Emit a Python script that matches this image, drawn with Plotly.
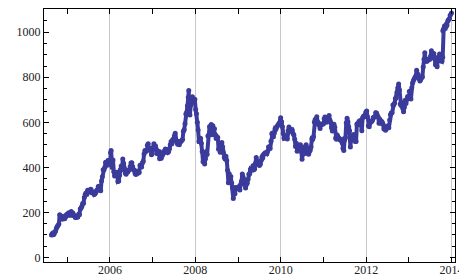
import plotly.graph_objects as go

# Weekly-ish closing values
dates = [
    "2004-08-19","2004-08-26","2004-09-02","2004-09-09","2004-09-16","2004-09-23","2004-09-30","2004-10-07","2004-10-14","2004-10-21",
    "2004-10-28","2004-11-04","2004-11-11","2004-11-18","2004-11-26","2004-12-03","2004-12-10","2004-12-17","2004-12-27",
    "2005-01-06","2005-01-14","2005-01-21","2005-01-28","2005-02-04","2005-02-11","2005-02-18","2005-02-25","2005-03-04","2005-03-11",
    "2005-03-18","2005-03-25","2005-04-01","2005-04-08","2005-04-15","2005-04-22","2005-04-29","2005-05-06","2005-05-13","2005-05-20",
    "2005-05-27","2005-06-03","2005-06-10","2005-06-17","2005-06-24","2005-07-01","2005-07-08","2005-07-15","2005-07-22","2005-07-29",
    "2005-08-05","2005-08-12","2005-08-19","2005-08-26","2005-09-02","2005-09-09","2005-09-16","2005-09-23","2005-09-30","2005-10-07",
    "2005-10-14","2005-10-21","2005-10-28","2005-11-04","2005-11-11","2005-11-18","2005-11-25","2005-12-02","2005-12-09","2005-12-16",
    "2005-12-23","2005-12-30",
    "2006-01-06","2006-01-11","2006-01-20","2006-01-27","2006-02-03","2006-02-10","2006-02-17","2006-02-24","2006-03-03","2006-03-10",
    "2006-03-17","2006-03-24","2006-03-31","2006-04-07","2006-04-14","2006-04-21","2006-04-28","2006-05-05","2006-05-12","2006-05-19",
    "2006-05-26","2006-06-02","2006-06-09","2006-06-16","2006-06-23","2006-06-30","2006-07-07","2006-07-14","2006-07-21","2006-07-28",
    "2006-08-04","2006-08-11","2006-08-18","2006-08-25","2006-09-01","2006-09-08","2006-09-15","2006-09-22","2006-09-29","2006-10-06",
    "2006-10-13","2006-10-20","2006-10-27","2006-11-03","2006-11-10","2006-11-17","2006-11-24","2006-12-01","2006-12-08","2006-12-15",
    "2006-12-22","2006-12-29",
    "2007-01-05","2007-01-12","2007-01-19","2007-01-26","2007-02-02","2007-02-09","2007-02-16","2007-02-23","2007-03-02","2007-03-09",
    "2007-03-16","2007-03-23","2007-03-30","2007-04-05","2007-04-13","2007-04-20","2007-04-27","2007-05-04","2007-05-11","2007-05-18",
    "2007-05-25","2007-06-01","2007-06-08","2007-06-15","2007-06-22","2007-06-29","2007-07-06","2007-07-13","2007-07-20","2007-07-27",
    "2007-08-03","2007-08-10","2007-08-17","2007-08-24","2007-08-31","2007-09-07","2007-09-14","2007-09-21","2007-09-28","2007-10-05",
    "2007-10-12","2007-10-19","2007-10-26","2007-11-02","2007-11-06","2007-11-09","2007-11-16","2007-11-23","2007-11-30","2007-12-07",
    "2007-12-14","2007-12-21","2007-12-28",
    "2008-01-04","2008-01-11","2008-01-18","2008-01-25","2008-02-01","2008-02-08","2008-02-15","2008-02-22","2008-02-29","2008-03-07",
    "2008-03-14","2008-03-21","2008-03-28","2008-04-04","2008-04-11","2008-04-18","2008-04-25","2008-05-02","2008-05-09","2008-05-16",
    "2008-05-23","2008-05-30","2008-06-06","2008-06-13","2008-06-20","2008-06-27","2008-07-03","2008-07-11","2008-07-18","2008-07-25",
    "2008-08-01","2008-08-08","2008-08-15","2008-08-22","2008-08-29","2008-09-05","2008-09-12","2008-09-19","2008-09-26","2008-10-03",
    "2008-10-10","2008-10-17","2008-10-24","2008-10-31","2008-11-07","2008-11-14","2008-11-21","2008-11-28","2008-12-05","2008-12-12",
    "2008-12-19","2008-12-31",
    "2009-01-09","2009-01-16","2009-01-23","2009-01-30","2009-02-06","2009-02-13","2009-02-20","2009-02-27","2009-03-06","2009-03-13",
    "2009-03-20","2009-03-27","2009-04-03","2009-04-10","2009-04-17","2009-04-24","2009-05-01","2009-05-08","2009-05-15","2009-05-22",
    "2009-05-29","2009-06-05","2009-06-12","2009-06-19","2009-06-26","2009-07-02","2009-07-10","2009-07-17","2009-07-24","2009-07-31",
    "2009-08-07","2009-08-14","2009-08-21","2009-08-28","2009-09-04","2009-09-11","2009-09-18","2009-09-25","2009-10-02","2009-10-09",
    "2009-10-16","2009-10-23","2009-10-30","2009-11-06","2009-11-13","2009-11-20","2009-11-27","2009-12-04","2009-12-11","2009-12-18",
    "2009-12-31",
    "2010-01-08","2010-01-15","2010-01-22","2010-01-29","2010-02-05","2010-02-12","2010-02-19","2010-02-26","2010-03-05","2010-03-12",
    "2010-03-19","2010-03-26","2010-04-02","2010-04-09","2010-04-16","2010-04-23","2010-04-30","2010-05-07","2010-05-14","2010-05-21",
    "2010-05-28","2010-06-04","2010-06-11","2010-06-18","2010-06-25","2010-07-02","2010-07-09","2010-07-16","2010-07-23","2010-07-30",
    "2010-08-06","2010-08-13","2010-08-20","2010-08-27","2010-09-03","2010-09-10","2010-09-17","2010-09-24","2010-10-01","2010-10-08",
    "2010-10-15","2010-10-22","2010-10-29","2010-11-05","2010-11-12","2010-11-19","2010-11-26","2010-12-03","2010-12-10","2010-12-17",
    "2010-12-31",
    "2011-01-07","2011-01-14","2011-01-21","2011-01-28","2011-02-04","2011-02-11","2011-02-18","2011-02-25","2011-03-04","2011-03-11",
    "2011-03-18","2011-03-25","2011-04-01","2011-04-08","2011-04-15","2011-04-22","2011-04-29","2011-05-06","2011-05-13","2011-05-20",
    "2011-05-27","2011-06-03","2011-06-10","2011-06-17","2011-06-24","2011-07-01","2011-07-08","2011-07-15","2011-07-22","2011-07-29",
    "2011-08-05","2011-08-12","2011-08-19","2011-08-26","2011-09-02","2011-09-09","2011-09-16","2011-09-23","2011-09-30","2011-10-07",
    "2011-10-14","2011-10-21","2011-10-28","2011-11-04","2011-11-11","2011-11-18","2011-11-25","2011-12-02","2011-12-09","2011-12-16",
    "2011-12-30",
    "2012-01-06","2012-01-13","2012-01-20","2012-01-27","2012-02-03","2012-02-10","2012-02-17","2012-02-24","2012-03-02","2012-03-09",
    "2012-03-16","2012-03-23","2012-03-30","2012-04-05","2012-04-13","2012-04-20","2012-04-27","2012-05-04","2012-05-11","2012-05-18",
    "2012-05-25","2012-06-01","2012-06-08","2012-06-15","2012-06-22","2012-06-29","2012-07-06","2012-07-13","2012-07-20","2012-07-27",
    "2012-08-03","2012-08-10","2012-08-17","2012-08-24","2012-08-31","2012-09-07","2012-09-14","2012-09-21","2012-09-28","2012-10-05",
    "2012-10-12","2012-10-19","2012-10-26","2012-11-02","2012-11-09","2012-11-16","2012-11-23","2012-11-30","2012-12-07","2012-12-14",
    "2012-12-21","2012-12-31",
    "2013-01-04","2013-01-11","2013-01-18","2013-01-25","2013-02-01","2013-02-08","2013-02-15","2013-02-22","2013-03-01","2013-03-08",
    "2013-03-15","2013-03-22","2013-03-28","2013-04-05","2013-04-12","2013-04-19","2013-04-26","2013-05-03","2013-05-10","2013-05-17",
    "2013-05-24","2013-05-31","2013-06-07","2013-06-14","2013-06-21","2013-06-28","2013-07-05","2013-07-12","2013-07-19","2013-07-26",
    "2013-08-02","2013-08-09","2013-08-16","2013-08-23","2013-08-30","2013-09-06","2013-09-13","2013-09-20","2013-09-27","2013-10-04",
    "2013-10-11","2013-10-17","2013-10-18","2013-10-25","2013-11-01","2013-11-08","2013-11-15","2013-11-22","2013-11-29","2013-12-06",
    "2013-12-13","2013-12-20","2013-12-31",
]

prices = [
    100, 106, 101, 103, 112, 118, 130, 138, 142, 149,
    190, 185, 183, 170, 180, 180, 172, 180, 191,
    194, 199, 188, 190, 204, 187, 198, 185, 185, 178,
    180, 179, 180, 192, 191, 215, 220, 228, 240, 241,
    266, 280, 286, 280, 298, 291, 296, 301, 303, 287,
    292, 289, 280, 283, 288, 299, 300, 315, 316, 312,
    296, 339, 358, 390, 390, 400, 423, 417, 410, 430,
    430, 414,
    465, 475, 400, 433, 381, 362, 368, 377, 378, 337,
    339, 365, 390, 406, 390, 437, 417, 394, 375, 370,
    381, 380, 386, 390, 404, 419, 420, 403, 390, 388,
    373, 368, 383, 373, 378, 377, 409, 403, 402, 420,
    427, 459, 475, 471, 473, 498, 505, 480, 484, 480,
    456, 460,
    487, 505, 489, 495, 481, 461, 469, 470, 438, 452,
    440, 461, 458, 471, 466, 482, 479, 471, 466, 470,
    483, 500, 515, 505, 524, 522, 539, 552, 520, 511,
    503, 515, 500, 515, 515, 519, 524, 560, 567, 594,
    637, 644, 674, 711, 741, 663, 633, 676, 693, 714,
    689, 697, 702,
    657, 638, 600, 566, 515, 516, 529, 507, 471, 425,
    437, 415, 438, 471, 457, 539, 544, 581, 573, 590,
    545, 585, 567, 571, 546, 528, 537, 533, 481, 491,
    467, 495, 510, 490, 463, 444, 437, 449, 431, 387,
    332, 372, 339, 359, 331, 310, 262, 292, 283, 310,
    310, 307,
    315, 300, 324, 338, 371, 357, 346, 337, 308, 324,
    330, 347, 369, 372, 392, 389, 393, 407, 390, 393,
    417, 444, 424, 420, 425, 408, 414, 430, 446, 443,
    457, 460, 465, 464, 461, 472, 491, 492, 484, 516,
    549, 553, 536, 551, 572, 569, 579, 585, 590, 596,
    620,
    603, 580, 550, 529, 531, 533, 540, 526, 564, 579,
    560, 562, 568, 566, 550, 544, 525, 493, 507, 472,
    485, 498, 488, 500, 472, 436, 467, 459, 490, 484,
    500, 486, 462, 458, 470, 476, 490, 527, 525, 536,
    601, 612, 613, 625, 603, 590, 590, 573, 592, 590,
    593,
    616, 624, 611, 600, 610, 624, 630, 610, 600, 576,
    561, 579, 591, 578, 530, 525, 544, 535, 529, 525,
    520, 523, 509, 485, 475, 521, 531, 597, 618, 603,
    579, 563, 490, 526, 524, 524, 546, 525, 515, 515,
    591, 590, 600, 596, 608, 594, 563, 620, 627, 625,
    646,
    650, 624, 585, 580, 596, 605, 604, 609, 621, 622,
    625, 642, 641, 632, 624, 596, 614, 596, 605, 600,
    591, 570, 580, 565, 571, 580, 585, 576, 610, 634,
    641, 642, 677, 678, 685, 706, 709, 733, 754, 770,
    744, 681, 675, 687, 663, 647, 667, 698, 684, 701,
    715, 707,
    737, 739, 704, 753, 775, 785, 792, 799, 806, 831,
    814, 810, 794, 783, 790, 799, 801, 845, 880, 909,
    873, 871, 879, 875, 880, 880, 893, 918, 896, 885,
    906, 890, 856, 870, 847, 880, 889, 903, 876, 872,
    871, 889, 1006, 1015, 1027, 1016, 1033, 1031, 1050, 1055,
    1060, 1075, 1085,
]

assert len(dates) == len(prices)

x_range = ["2004-06-16", "2014-01-30"]
y_range = [-20, 1103]

color = "#3b3b9c"
font = dict(family="Liberation Serif, Times New Roman, serif", size=12, color="#222222")

fig = go.Figure()
fig.add_trace(go.Scatter(
    x=dates, y=prices, mode="lines+markers",
    line=dict(color=color, width=4),
    marker=dict(color=color, size=5),
    showlegend=False, hoverinfo="skip",
))

# the page body has an 8px default margin, so the figure is sized to fit the window
fig.update_layout(
    width=459, height=270,
    margin=dict(l=36, r=12, t=1, b=16, autoexpand=False),
    paper_bgcolor="white", plot_bgcolor="white",
    font=font,
)
fig.update_xaxes(
    type="date", range=x_range, automargin=False,
    tick0="2006-01-01", dtick="M24", tickformat="%Y",
    ticks="inside", ticklen=5, tickcolor="black", tickwidth=1,
    ticklabelstandoff=-3,
    showgrid=True, gridcolor="#c8c8c8", gridwidth=1,
    minor=dict(dtick="M12", tick0="2005-01-01", ticks="inside", ticklen=5, tickcolor="black", showgrid=False),
    showline=True, linecolor="black", linewidth=1, mirror="allticks",
    zeroline=False, tickfont=font,
)
fig.update_yaxes(
    range=y_range, tick0=0, dtick=200, automargin=False,
    ticks="inside", ticklen=5, tickcolor="black", tickwidth=1,
    showgrid=False,
    minor=dict(dtick=50, ticks="inside", ticklen=3, tickcolor="black", showgrid=False),
    showline=True, linecolor="black", linewidth=1, mirror="allticks",
    zeroline=False, tickfont=font,
)

fig.write_html("out.html")
